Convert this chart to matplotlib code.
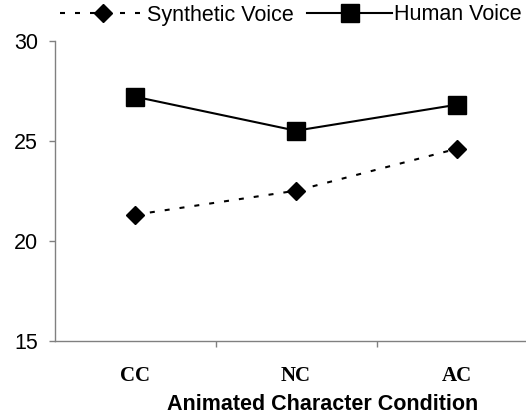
import matplotlib
matplotlib.use("Agg")
import matplotlib.pyplot as plt

# values
conditions = ["CC", "NC", "AC"]
synthetic = [21.3, 22.5, 24.6]
human = [27.2, 25.5, 26.8]

plt.rcParams['font.family'] = ['Liberation Sans', 'DejaVu Sans']
plt.rcParams['lines.scale_dashes'] = False

W, H = 526, 416
fig = plt.figure(figsize=(W / 100, H / 100), dpi=100)
# axes box in pixels: x from -0.5 at 54.5px to 2.5 at 537.5px, y 15..30 from 340.7 to 40.7
ax = fig.add_axes([54.5 / W, (H - 340.7) / H, 483 / W, 300 / H])

x = list(range(len(conditions)))
ax.plot(x, synthetic, color="black", lw=1.5, dashes=(3.6, 7.2),
        marker="D", markersize=9.5, label="Synthetic Voice")
ax.plot(x, human, color="black", lw=1.5,
        marker="s", markersize=13, label="Human Voice")

ax.set_xlim(-0.5, 2.5)
ax.set_ylim(15, 30)
ax.set_yticks([15, 20, 25, 30])

for s in ["top", "right"]:
    ax.spines[s].set_visible(False)
for s in ["left", "bottom"]:
    ax.spines[s].set_color("#808080")
    ax.spines[s].set_linewidth(1.0)

ax.tick_params(axis="y", direction="out", length=4, width=1, color="#808080",
               pad=8, labelsize=15.5)
ax.set_xticks(x)
ax.set_xticklabels(conditions, fontfamily="Liberation Serif", fontweight="bold",
                   fontsize=15)
ax.tick_params(axis="x", which="major", length=0, pad=18)
ax.set_xticks([0.5, 1.5], minor=True)
ax.tick_params(axis="x", which="minor", direction="out", length=4, width=1,
               color="#808080")

fig.text(323 / W, (H - 405) / H, "Animated Character Condition", ha="center",
         va="center", fontsize=15.5, fontweight="bold")

fig.legend(loc="center", bbox_to_anchor=(291 / W, 1 - 15 / H), ncol=2,
           frameon=False, fontsize=15.5, handlelength=3.95, handletextpad=0.1,
           columnspacing=0.6, borderpad=0, borderaxespad=0)

fig.savefig("out.png", dpi=100)
